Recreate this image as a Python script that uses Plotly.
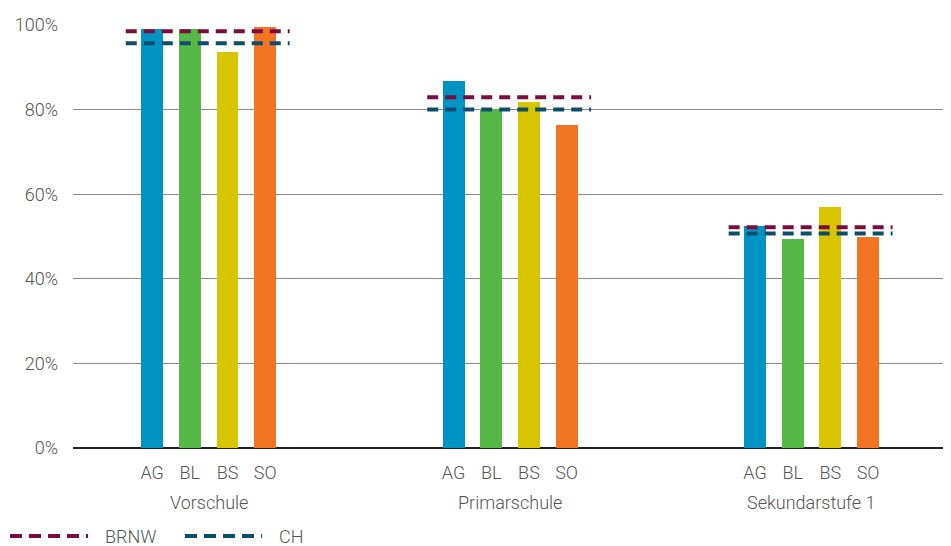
import plotly.graph_objects as go

groups = ["Vorschule", "Primarschule", "Sekundarstufe 1"]
cantons = ["AG", "BL", "BS", "SO"]
canton_colors = ["#0094C4", "#56B947", "#D8C500", "#F27422"]

values = {
    "AG": [99.0, 86.8, 52.5],
    "BL": [99.0, 80.1, 49.4],
    "BS": [93.6, 81.8, 57.0],
    "SO": [99.5, 76.4, 50.0],
}
brnw = [98.5, 82.9, 52.2]
ch = [95.7, 80.0, 50.7]

ref_names = ["BRNW", "CH"]
ref_colors = ["#7B0D3E", "#0E4C6C"]

ytick_vals = [0, 20, 40, 60, 80, 100]
ytick_text = ["0%", "20%", "40%", "60%", "80%", "100%"]

GROUP_STEP = 8
FONT = "Roboto"
TXT = "#555555"
FS = 18

fig = go.Figure()

tick_x, tick_t = [], []
for ci, c in enumerate(cantons):
    xs = [g * GROUP_STEP + ci for g in range(len(groups))]
    tick_x += xs
    tick_t += [c] * len(groups)
    fig.add_trace(go.Bar(
        x=xs, y=values[c], name=c, width=0.58,
        marker=dict(color=canton_colors[ci], line=dict(width=0)),
        showlegend=False,
    ))

for name, vals, col in zip(ref_names, [brnw, ch], ref_colors):
    xs, ys = [], []
    for g, v in enumerate(vals):
        xs += [g * GROUP_STEP - 0.7, g * GROUP_STEP + 3.65, None]
        ys += [v, v, None]
    fig.add_trace(go.Scatter(
        x=xs, y=ys, mode="lines", name=name,
        line=dict(color=col, width=4, dash="11px,7px"),
        showlegend=False,
    ))

# page has an 8px body margin: figure origin sits at page (8, 8)
OFF = 8
W, H = 951 - OFF, 546 - OFF
L, R, T, B = 73 - OFF, 0, 25 - OFF, 98
pw = W - L - R
ph = H - T - B

def px(xp):
    return (xp - OFF - L) / pw

legend_y = -(536 - OFF - (H - B)) / ph
for (x0, x1, tx), name, col in zip([(10, 88, 103), (185, 262, 277)], ref_names, ref_colors):
    fig.add_shape(type="line", xref="paper", yref="paper", x0=px(x0), x1=px(x1),
                  y0=legend_y, y1=legend_y, line=dict(color=col, width=4, dash="12px,7px"))
    fig.add_annotation(xref="paper", yref="paper", x=px(tx), y=legend_y, text=name,
                       showarrow=False, xanchor="left", yanchor="middle",
                       font=dict(family=FONT, size=FS, color=TXT, weight=300))

for g, gname in enumerate(groups):
    fig.add_annotation(x=g * GROUP_STEP + 1.5, xref="x", yref="paper", y=0, yshift=-54,
                       text=gname, showarrow=False, xanchor="center", yanchor="middle",
                       font=dict(family=FONT, size=FS, color=TXT, weight=300))

fig.update_layout(
    width=W, height=H,
    margin=dict(l=L, r=R, t=T, b=B),
    plot_bgcolor="white", paper_bgcolor="white",
    font=dict(family=FONT, size=FS, color=TXT, weight=300),
    bargap=0,
    xaxis=dict(
        range=[-2.1, 21.2], tickvals=tick_x, ticktext=tick_t,
        showgrid=False, zeroline=False, showline=False,
        ticks="outside", ticklen=8, tickcolor="rgba(0,0,0,0)",
        tickfont=dict(family=FONT, size=FS, color=TXT, weight=300),
    ),
    yaxis=dict(
        range=[0, 100], tickvals=ytick_vals, ticktext=ytick_text,
        showgrid=True, gridcolor="#8a8a8a", gridwidth=1,
        zeroline=True, zerolinecolor="#222222", zerolinewidth=1.5,
        showline=False, ticks="", ticklabelstandoff=14,
        tickfont=dict(family=FONT, size=FS, color=TXT, weight=300),
    ),
)

fig.write_html("out.html")
